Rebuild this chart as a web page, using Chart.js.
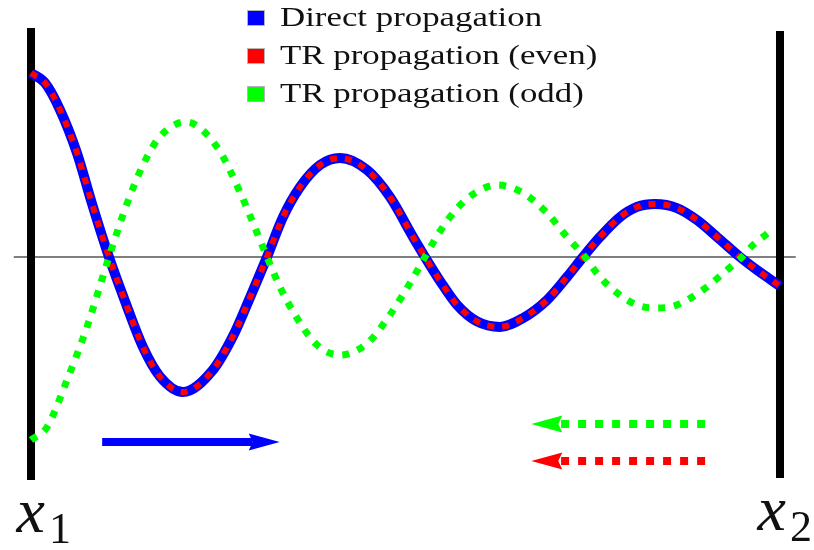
<!DOCTYPE html>
<html>
<head>
<meta charset="utf-8">
<title>Propagation between x1 and x2</title>
<script src="https://cdn.jsdelivr.net/npm/chart.js@4.4.0/dist/chart.umd.min.js"></script>
<style>
    html, body { margin: 0; padding: 0; background: #ffffff; }
    #wrap { width: 814px; height: 550px; position: relative; }
</style>
</head>
<body>
<div id="wrap"><canvas id="propagation_chart"></canvas></div>
<script>
"use strict";

// Position along the cavity: 0 at x1, 1 at x2. Amplitudes normalised to the launch value.
var directX = [0, 0.0187, 0.0387, 0.0614, 0.0814, 0.1041, 0.1255, 0.1495, 0.1722, 0.2029,
    0.2417, 0.2697, 0.2924, 0.3151, 0.3364, 0.3591, 0.3858, 0.4126, 0.4486, 0.4793, 0.5100,
    0.5260, 0.5461, 0.5688, 0.5955, 0.6262, 0.6569, 0.6889, 0.7156, 0.7370, 0.7597, 0.7864,
    0.8091, 0.8331, 0.8625, 0.8892, 0.9159, 0.9466, 0.9693, 1.0];
var directY = [1.0, 0.946, 0.80, 0.565, 0.29, 0, -0.24, -0.49, -0.65, -0.734,
    -0.62, -0.43, -0.22, 0, 0.217, 0.38, 0.50, 0.538, 0.473, 0.326, 0.109,
    0, -0.13, -0.26, -0.35, -0.38, -0.332, -0.234, -0.109, 0, 0.109, 0.217,
    0.272, 0.288, 0.266, 0.201, 0.109, 0, -0.071, -0.158];

// Even time-reversed wave retraces the direct one
var evenX = directX;
var evenY = directY;

var oddX = [0, 0.0214, 0.0481, 0.0748, 0.1041, 0.1282, 0.1495, 0.1722, 0.2069, 0.2483,
    0.2790, 0.2964, 0.3151, 0.3324, 0.3551, 0.3818, 0.4126, 0.4486, 0.4766, 0.5100, 0.5260,
    0.5461, 0.5701, 0.5955, 0.6222, 0.6569, 0.6889, 0.7156, 0.7397, 0.7597, 0.7864, 0.8091,
    0.8305, 0.8531, 0.8758, 0.9025, 0.9292, 0.9493, 0.9640, 0.9840];
var oddY = [-0.995, -0.924, -0.668, -0.38, 0, 0.29, 0.50, 0.655, 0.734, 0.598,
    0.353, 0.185, 0, -0.163, -0.332, -0.478, -0.533, -0.47, -0.33, -0.115, 0,
    0.14, 0.27, 0.355, 0.391, 0.348, 0.239, 0.109, 0, -0.109, -0.207, -0.261,
    -0.277, -0.272, -0.234, -0.163, -0.071, 0, 0.065, 0.130];

// Mirrors at x1 and x2 (top and bottom ends), and the zero line
var mirrorX = [0, 1];
var mirrorTop = [1.245, 1.228];
var mirrorBottom = [-1.212, -1.201];
var mirrorNames = ['1', '2'];
var baselineX = [-0.023, 1.021];

// Direction arrows: shaft start and end along x, and the level they sit at
var directArrowX = [0.095, 0.296];
var directArrowY = -1.005;
var oddArrowX = [0.900, 0.704];
var oddArrowY = -0.908;
var evenArrowX = [0.900, 0.704];
var evenArrowY = -1.109;

var BLUE = '#0000ff';
var RED = '#ff0000';
var GREEN = '#00ff00';

function toPoints(xs, ys) {
    return xs.map(function (x, i) {
        return { x: x, y: Array.isArray(ys) ? ys[i] : ys };
    });
}

// Stealth arrow heads at the last point of any dataset flagged with arrowHead
var arrowHeadPlugin = {
    id: 'arrowHeads',
    afterDatasetsDraw: function (chart) {
        var ctx = chart.ctx;
        chart.data.datasets.forEach(function (ds, i) {
            if (!ds.arrowHead) {
                return;
            }
            var pts = chart.getDatasetMeta(i).data;
            var p0 = pts[pts.length - 2], p1 = pts[pts.length - 1];
            var dx = p1.x - p0.x, dy = p1.y - p0.y;
            var len = Math.sqrt(dx * dx + dy * dy);
            dx /= len; dy /= len;
            var nx = -dy, ny = dx;
            ctx.save();
            ctx.fillStyle = ds.borderColor;
            ctx.beginPath();
            ctx.moveTo(p1.x + dx * 27, p1.y + dy * 27);
            ctx.lineTo(p1.x - dx * 4 + nx * 8.5, p1.y - dy * 4 + ny * 8.5);
            ctx.lineTo(p1.x, p1.y);
            ctx.lineTo(p1.x - dx * 4 - nx * 8.5, p1.y - dy * 4 - ny * 8.5);
            ctx.closePath();
            ctx.fill();
            ctx.restore();
        });
    }
};

// Legend in the top middle, drawn over the plot
var legendPlugin = {
    id: 'topLegend',
    afterDatasetsDraw: function (chart, args, opts) {
        var ctx = chart.ctx;
        var items = chart.data.datasets.filter(function (ds) { return ds.label; });
        ctx.save();
        ctx.font = opts.fontSize + 'px "Liberation Serif", "Times New Roman", serif';
        ctx.textBaseline = 'alphabetic';
        ctx.textAlign = 'left';
        items.forEach(function (ds, i) {
            var top = opts.top + i * opts.rowHeight;
            ctx.fillStyle = ds.borderColor;
            ctx.fillRect(opts.left, top, 18, 16);
            ctx.strokeStyle = '#b5b5b5';
            ctx.lineWidth = 1;
            ctx.strokeRect(opts.left + 0.5, top + 0.5, 17, 15);
            ctx.save();
            ctx.translate(opts.left + 33, top + 16);
            ctx.scale(opts.stretch, 1);
            ctx.fillStyle = '#111111';
            ctx.fillText(ds.label, 0, 0);
            ctx.restore();
        });
        ctx.restore();
    }
};

// x1 / x2 under the mirrors
var mirrorLabelPlugin = {
    id: 'mirrorLabels',
    afterDraw: function (chart, args, opts) {
        var ctx = chart.ctx;
        var xs = chart.scales.x, ys = chart.scales.y;
        ctx.save();
        ctx.fillStyle = '#111111';
        ctx.textBaseline = 'alphabetic';
        mirrorX.forEach(function (mx, i) {
            var right = xs.getPixelForValue(mx) + opts.shift[i];
            var bottom = ys.getPixelForValue(mirrorBottom[i]);
            ctx.font = 'italic 64px "Liberation Serif", "Times New Roman", serif';
            ctx.textAlign = 'right';
            ctx.fillText('x', right, bottom + 52);
            ctx.font = '44px "Liberation Serif", "Times New Roman", serif';
            ctx.textAlign = 'left';
            ctx.fillText(mirrorNames[i], right + 4, bottom + 63);
        });
        ctx.restore();
    }
};

var config = {
    type: 'line',
    data: {
        datasets: [{
            label: 'Direct propagation',
            data: toPoints(directX, directY),
            borderColor: BLUE,
            borderWidth: 10,
            cubicInterpolationMode: 'monotone',
            order: 2
        }, {
            label: 'TR propagation (even)',
            data: toPoints(evenX, evenY),
            borderColor: RED,
            borderWidth: 6,
            borderDash: [7, 8],
            cubicInterpolationMode: 'monotone',
            order: 1
        }, {
            label: 'TR propagation (odd)',
            data: toPoints(oddX, oddY),
            borderColor: GREEN,
            borderWidth: 7,
            borderDash: [7, 9],
            cubicInterpolationMode: 'monotone',
            order: 0
        }, {
            data: toPoints(baselineX, 0),
            borderColor: '#555555',
            borderWidth: 1.3,
            order: 5
        }, {
            data: [{ x: mirrorX[0], y: mirrorTop[0] }, { x: mirrorX[0], y: mirrorBottom[0] }],
            borderColor: '#000000',
            borderWidth: 8,
            order: 4
        }, {
            data: [{ x: mirrorX[1], y: mirrorTop[1] }, { x: mirrorX[1], y: mirrorBottom[1] }],
            borderColor: '#000000',
            borderWidth: 8,
            order: 4
        }, {
            data: toPoints(directArrowX, directArrowY),
            borderColor: BLUE,
            borderWidth: 8,
            arrowHead: true,
            order: 0
        }, {
            data: toPoints(oddArrowX, oddArrowY),
            borderColor: GREEN,
            borderWidth: 8,
            borderDash: [8, 9],
            arrowHead: true,
            order: 0
        }, {
            data: toPoints(evenArrowX, evenArrowY),
            borderColor: RED,
            borderWidth: 8,
            borderDash: [8, 9],
            arrowHead: true,
            order: 0
        }]
    },
    options: {
        responsive: true,
        maintainAspectRatio: false,
        animation: false,
        layout: { padding: 0 },
        elements: {
            point: { radius: 0, hoverRadius: 0 },
            line: { borderCapStyle: 'butt', fill: false }
        },
        scales: {
            x: { type: 'linear', min: -0.0414, max: 1.0454, display: false },
            y: { type: 'linear', min: -1.5924, max: 1.3967, display: false }
        },
        plugins: {
            legend: { display: false },
            tooltip: { enabled: false },
            topLegend: { left: 247, top: 10, rowHeight: 38, fontSize: 27, stretch: 1.29 },
            mirrorLabels: { shift: [14, 6] }
        }
    },
    plugins: [arrowHeadPlugin, legendPlugin, mirrorLabelPlugin]
};

var ctx = document.getElementById('propagation_chart').getContext('2d');
var propagationChart = new Chart(ctx, config);
</script>
</body>
</html>
